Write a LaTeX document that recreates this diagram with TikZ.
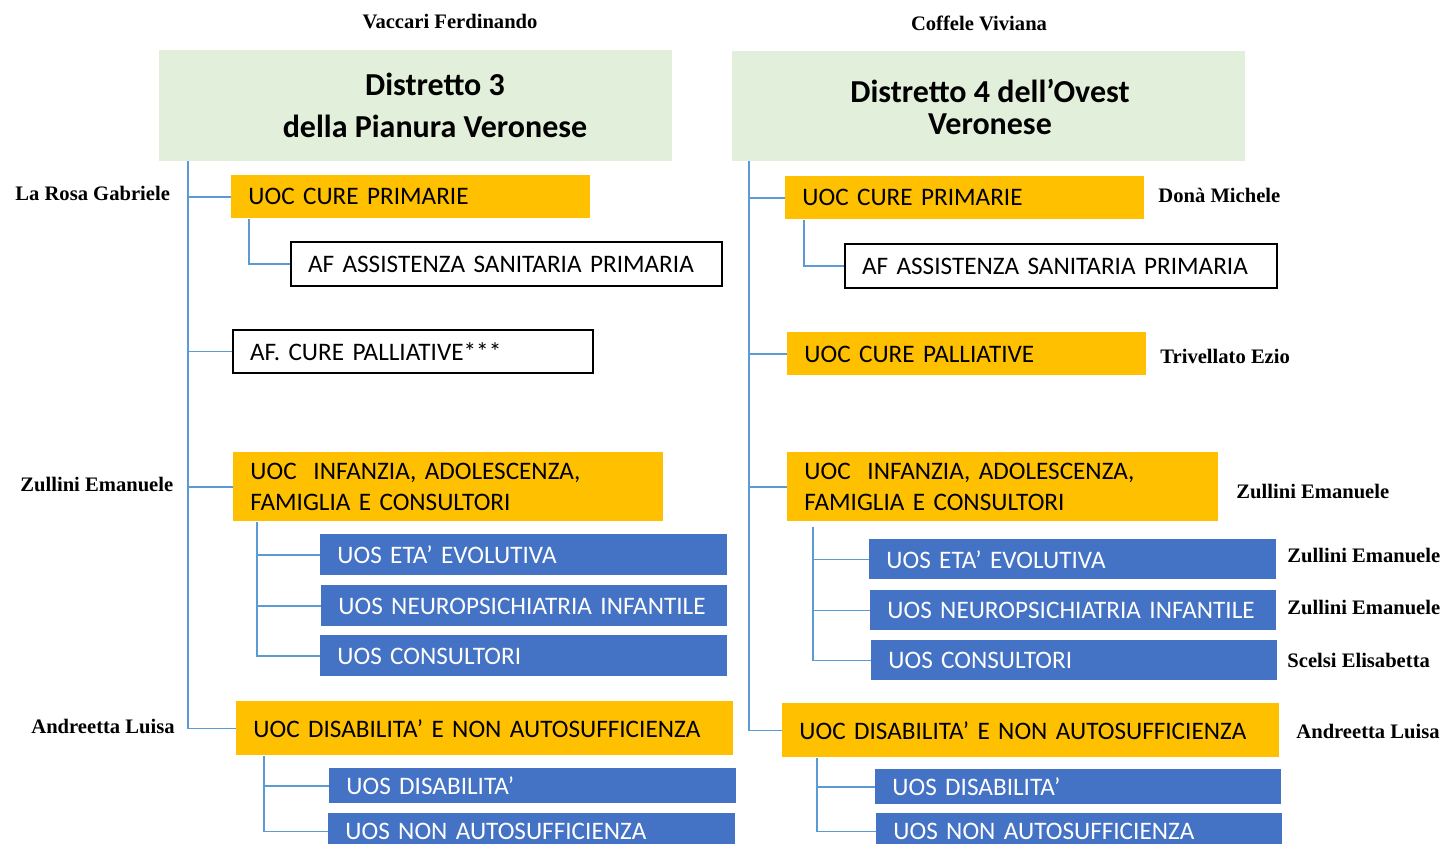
\documentclass[tikz,border=0pt]{standalone}
\usepackage{fontspec}
\setmainfont{Carlito}
\newfontfamily\namefont{Liberation Serif}
\definecolor{uocor}{HTML}{FFC000}
\definecolor{uosbl}{HTML}{4472C4}
\definecolor{grn}{HTML}{E2EFDA}
\definecolor{linebl}{HTML}{5B9BD5}
\newcommand\ubox[7]{%
 \pgfmathsetmacro\uxw{(#5-#3)*0.5}%
 \pgfmathsetmacro\uxh{(#6-#4)*0.5}%
 \pgfmathsetmacro\uxt{\uxw-17}%
 \node[#1, anchor=north west, minimum width=\uxw pt, minimum height=\uxh pt,
   text width=\uxt pt, inner xsep=8.5pt, inner ysep=0pt, align=left] (#2) at (#3,#4) {#7};}
\tikzset{
 boxfont/.style={font=\fontsize{12.6}{15.5}\selectfont},
 orangebox/.style={boxfont, fill=uocor, text=black},
 bluebox/.style={boxfont, fill=uosbl, text=white},
 afbox/.style={boxfont, draw=black, line width=1pt, fill=white},
 greenbox/.style={fill=grn, anchor=north west, inner sep=0pt},
 conn/.style={draw=linebl, line width=0.8pt},
 person/.style={font=\namefont\bfseries\fontsize{10.3}{12}\selectfont, inner sep=0pt,
   text height=0.66em, text depth=0pt, anchor=west},
 titletext/.style={font=\bfseries\fontsize{16}{21}\selectfont, align=center, inner sep=0pt}
}
\begin{document}
\begin{tikzpicture}[x=0.5pt,y=-0.5pt]
\useasboundingbox (0,0) rectangle (1443,843);

% ---------- titles ----------
\node[person, anchor=center] (nVac) at (450,22) {Vaccari Ferdinando};
\node[person, anchor=center] (nCof) at (979,24) {Coffele Viviana};

\node[greenbox, minimum width=256.5pt, minimum height=55.5pt] (gL) at (159,50) {};
\node[titletext, font=\bfseries\fontsize{16}{21}\selectfont] (gLt) at (435,105) {Distretto 3\\della Pianura Veronese};
\node[greenbox, minimum width=256.5pt, minimum height=55pt] (gR) at (732,51) {};
\node[titletext, font=\bfseries\fontsize{16}{16}\selectfont] (gRt) at (990,107) {Distretto 4 dell’Ovest\\Veronese};

% ---------- left column ----------
\ubox{orangebox}{cpL}{231}{175}{590}{218}{UOC CURE PRIMARIE}
\ubox{afbox}{afL}{290}{241}{721}{285}{AF ASSISTENZA SANITARIA PRIMARIA}
\ubox{afbox}{palL}{232}{329}{592}{372}{AF. CURE PALLIATIVE***}
\ubox{orangebox}{infL}{233}{452}{663}{521}{UOC\ \ INFANZIA, ADOLESCENZA,\\FAMIGLIA E CONSULTORI}
\ubox{bluebox}{etaL}{320}{534}{727}{575}{UOS ETA’ EVOLUTIVA}
\ubox{bluebox}{neuL}{321}{585}{727}{626}{UOS NEUROPSICHIATRIA INFANTILE}
\ubox{bluebox}{conL}{320}{635}{727}{676}{UOS CONSULTORI}
\ubox{orangebox}{disL}{236}{701}{733}{755}{UOC DISABILITA’ E NON AUTOSUFFICIENZA}
\ubox{bluebox}{dsbL}{329}{768}{736}{803}{UOS DISABILITA’}
\ubox{bluebox}{nasL}{328}{813}{735}{849}{UOS NON AUTOSUFFICIENZA}

\node[person] (pLaRosa) at (15,194) {La Rosa Gabriele};
\node[person] (pZulL) at (20,485) {Zullini Emanuele};
\node[person] (pAndL) at (31,727) {Andreetta Luisa};

\coordinate (tL) at (188,161);
\draw[conn] (tL) |- (disL.west);
\draw[conn] (tL |- cpL.west) -- (cpL.west);
\draw[conn] (tL |- palL.west) -- (palL.west);
\draw[conn] (tL |- infL.west) -- (infL.west);

\coordinate (scL) at ([xshift=9pt]cpL.south west);
\draw[conn] (scL) |- (afL.west);
\coordinate (siL) at ([xshift=12pt]infL.south west);
\draw[conn] (siL) |- (conL.west);
\draw[conn] (siL |- etaL.west) -- (etaL.west);
\draw[conn] (siL |- neuL.west) -- (neuL.west);
\coordinate (sdL) at ([xshift=14pt]disL.south west);
\draw[conn] (sdL) |- (nasL.west);
\draw[conn] (sdL |- dsbL.west) -- (dsbL.west);

% ---------- right column ----------
\ubox{orangebox}{cpR}{785}{176}{1144}{219}{UOC CURE PRIMARIE}
\ubox{afbox}{afR}{844}{243}{1276}{287}{AF ASSISTENZA SANITARIA PRIMARIA}
\ubox{orangebox}{palR}{787}{332}{1146}{375}{UOC CURE PALLIATIVE}
\ubox{orangebox}{infR}{787}{452}{1218}{521}{UOC\ \ INFANZIA, ADOLESCENZA,\\FAMIGLIA E CONSULTORI}
\ubox{bluebox}{etaR}{869}{539}{1276}{579}{UOS ETA’ EVOLUTIVA}
\ubox{bluebox}{neuR}{870}{590}{1276}{630}{UOS NEUROPSICHIATRIA INFANTILE}
\ubox{bluebox}{conR}{871}{640}{1277}{680}{UOS CONSULTORI}
\ubox{orangebox}{disR}{782}{703}{1279}{757}{UOC DISABILITA’ E NON AUTOSUFFICIENZA}
\ubox{bluebox}{dsbR}{875}{769}{1281}{804}{UOS DISABILITA’}
\ubox{bluebox}{nasR}{876}{813}{1282}{849}{UOS NON AUTOSUFFICIENZA}

\node[person] (pDona) at (1158,196) {Donà Michele};
\node[person] (pTriv) at (1160,357) {Trivellato Ezio};
\node[person] (pZulR) at (1236,492) {Zullini Emanuele};
\node[person] (pZulE) at (1287,556) {Zullini Emanuele};
\node[person] (pZulN) at (1287,608) {Zullini Emanuele};
\node[person] (pScel) at (1287,661) {Scelsi Elisabetta};
\node[person] (pAndR) at (1296,732) {Andreetta Luisa};

\coordinate (tR) at (749,161);
\draw[conn] (tR) |- (disR.west);
\draw[conn] (tR |- cpR.west) -- (cpR.west);
\draw[conn] (tR |- palR.west) -- (palR.west);
\draw[conn] (tR |- infR.west) -- (infR.west);

\coordinate (scR) at ([xshift=9.5pt]cpR.south west);
\draw[conn] (scR) |- (afR.west);
\coordinate (siR) at ([xshift=13pt,yshift=-2.5pt]infR.south west);
\draw[conn] (siR) |- (conR.west);
\draw[conn] (siR |- etaR.west) -- (etaR.west);
\draw[conn] (siR |- neuR.west) -- (neuR.west);
\coordinate (sdR) at ([xshift=17.5pt]disR.south west);
\draw[conn] (sdR) |- (nasR.west);
\draw[conn] (sdR |- dsbR.west) -- (dsbR.west);
\end{tikzpicture}
\end{document}
